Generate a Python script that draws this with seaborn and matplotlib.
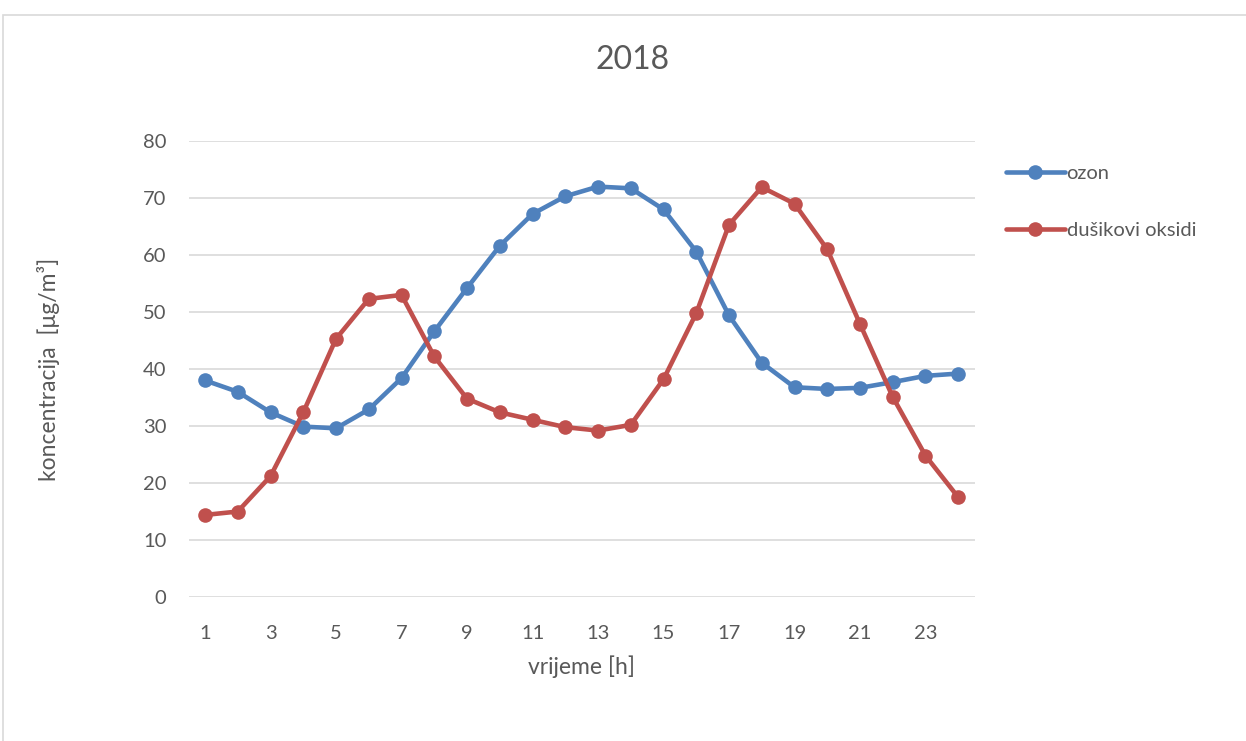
import numpy as np
import pandas as pd
import matplotlib
matplotlib.use("Agg")
import matplotlib.pyplot as plt
import seaborn as sns
from matplotlib.lines import Line2D

hours = list(range(1, 25))
ozon = [38.0, 36.0, 32.4, 29.9, 29.6, 32.9, 38.4, 46.6, 54.2, 61.6, 67.2, 70.3,
        72.0, 71.7, 68.0, 60.6, 49.4, 41.1, 36.8, 36.5, 36.7, 37.7, 38.8, 39.2]
nox = [14.4, 15.0, 21.2, 32.4, 45.3, 52.3, 53.0, 42.2, 34.8, 32.4, 31.1, 29.8,
       29.2, 30.2, 38.2, 49.8, 65.3, 71.9, 69.0, 61.0, 47.9, 35.1, 24.8, 17.5]
series_names = ["ozon", "dušikovi oksidi"]
colors = ["#4F81BD", "#C0504D"]
title = "2018"
xlabel = "vrijeme [h]"
ylabel = "koncentracija  [μg/m³]"
yticks = [0, 10, 20, 30, 40, 50, 60, 70, 80]
xticks = list(range(1, 25, 2))

df = pd.DataFrame({
    "h": hours * 2,
    "v": ozon + nox,
    "s": [series_names[0]] * 24 + [series_names[1]] * 24,
})

sns.set_theme(style="white")
plt.rcParams["font.family"] = ["Lato", "DejaVu Sans"]
text_col = "#595959"

fig = plt.figure(figsize=(12.46, 7.41), dpi=100)
ax = fig.add_axes([0.1514, 0.1943, 0.7822 - 0.1514, 0.8097 - 0.1943])

# outer chart border
fig.patches.append(plt.Rectangle((3 / 1246, -0.1), 1.1, 1 - 15 / 741 + 0.1,
                                 transform=fig.transFigure, fill=False,
                                 edgecolor="#D9D9D9", linewidth=1.2))

sns.lineplot(data=df, x="h", y="v", hue="s", palette=colors, ax=ax,
             marker="o", markersize=10.5, linewidth=3.3, markeredgewidth=0,
             legend=False)

ax.set_xlim(0.5, 24.5)
ax.set_ylim(0, 80)
ax.set_yticks(yticks)
ax.set_xticks(xticks)
ax.yaxis.grid(True, color="#D9D9D9", linewidth=1.2)
ax.xaxis.grid(False)
ax.set_axisbelow(True)
for sp in ax.spines.values():
    sp.set_visible(False)
ax.tick_params(axis="both", length=0, labelsize=14.5, labelcolor=text_col)
ax.tick_params(axis="x", pad=20)
ax.tick_params(axis="y", pad=16)

ax.set_xlabel(xlabel, fontsize=16.5, color=text_col, labelpad=10)
ax.set_ylabel(ylabel, fontsize=16.5, color=text_col, labelpad=60)
fig.text(633 / 1246, 1 - 60 / 741, title, fontsize=23, color=text_col,
         ha="center", va="center")

handles = [Line2D([0], [0], color=c, linewidth=3.3, marker="o", markersize=10.5,
                  markeredgewidth=0) for c in colors]
leg = fig.legend(handles, series_names, loc="upper left",
                 bbox_to_anchor=(988 / 1246, 1 - 147 / 741), frameon=False,
                 fontsize=14.5, labelcolor=text_col, handlelength=2.9,
                 handletextpad=0.1, labelspacing=1.95)

fig.savefig("out.png", dpi=100, facecolor="white")
